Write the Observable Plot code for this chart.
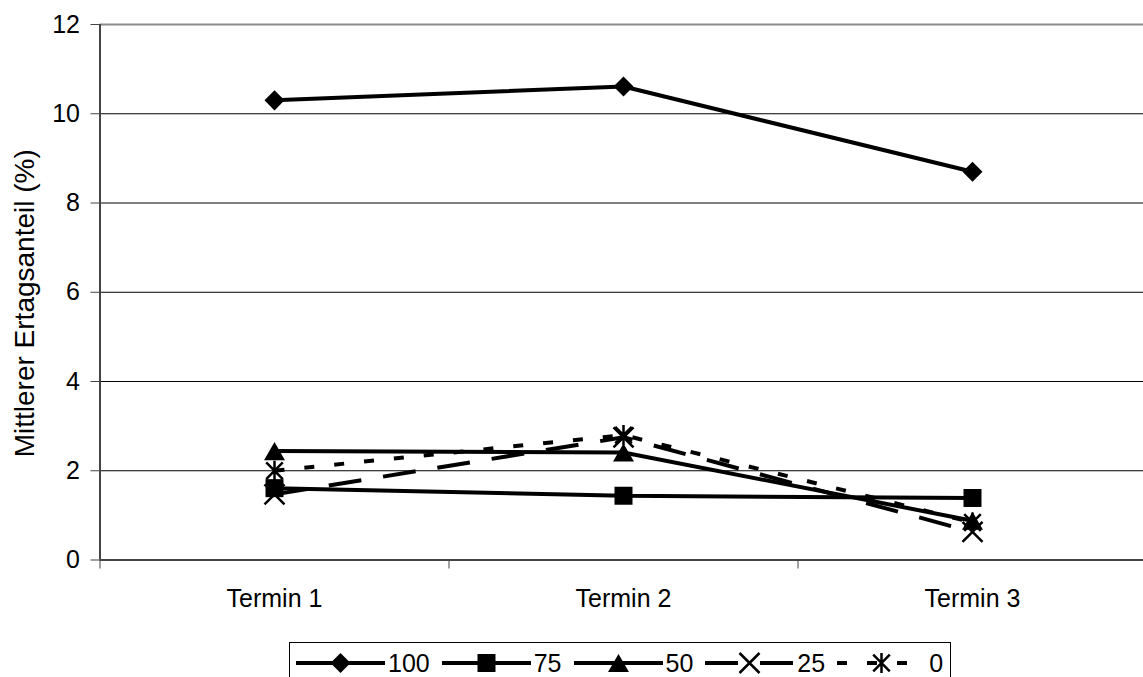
<!DOCTYPE html>
<html><head><meta charset="utf-8">
<script src="https://cdn.jsdelivr.net/npm/d3@7"></script>
<script src="https://cdn.jsdelivr.net/npm/@observablehq/plot@0.6"></script>
<style>
body{margin:0;background:#fff;font-family:"Liberation Sans",Arial,sans-serif;}
#wrap{position:relative;width:1143px;height:677px;overflow:hidden;background:#fff;}
#legend{position:absolute;left:289px;top:642px;height:42px;border:1px solid #000;display:flex;align-items:center;padding:0 7px 0 6px;font-size:25px;color:#000;box-sizing:border-box;white-space:nowrap;}
#legend .item{display:flex;align-items:center;}
#legend svg{display:block;}
#legend span{margin-left:3px;margin-right:12px;line-height:1;}
#legend .item:last-child span{margin-right:0;}
</style></head>
<body><div id="wrap"></div>
<script>
// ---- data ----
const termine = ["Termin 1", "Termin 2", "Termin 3"];
const seriesNames = ["100", "75", "50", "25", "0"];
const s100 = [10.3, 10.61, 8.7];
const s75 = [1.61, 1.44, 1.39];
const s50 = [2.44, 2.41, 0.88];
const s25 = [1.47, 2.75, 0.63];
const s0 = [2.0, 2.8, 0.84];
const yTicks = [0, 2, 4, 6, 8, 10, 12];
const yLabel = "Mittlerer Ertagsanteil (%)";

const values = [s100, s75, s50, s25, s0];
const data = seriesNames.flatMap((s, j) => termine.map((t, i) => ({s, t, i: i + 1, v: values[j][i]})));
const bounds = d3.range(termine.length + 1).map(k => k + 0.5);

// custom symbols
const triangle = {draw(ctx, size) {
  const s = Math.sqrt(size * 4 / Math.sqrt(3)), h = s * Math.sqrt(3) / 2;
  ctx.moveTo(0, -h / 2); ctx.lineTo(s / 2, h / 2); ctx.lineTo(-s / 2, h / 2); ctx.closePath();
}};
const star = {draw(ctx, size) {
  const r = Math.sqrt(size) * 0.6, d = r * 0.82;
  ctx.moveTo(0, -r); ctx.lineTo(0, r);
  ctx.moveTo(-d, -d); ctx.lineTo(d, d);
  ctx.moveTo(-d, d); ctx.lineTo(d, -d);
}};
const styles = {
  "100": {symbol: d3.symbolDiamond2, size: 256, filled: true, dash: null},
  "75": {symbol: d3.symbolSquare, size: 324, filled: true, dash: null},
  "50": {symbol: triangle, size: 190, filled: true, dash: null},
  "25": {symbol: d3.symbolTimes, size: 263, filled: false, dash: "33,22"},
  "0": {symbol: star, size: 283, filled: false, dash: "10,20"}
};
const LW = 4;

const marks = [
  Plot.ruleY(yTicks.filter(d => d > yTicks[0] && d < yTicks[yTicks.length - 1]), {stroke: "#000", strokeWidth: 1}),
  Plot.ruleY([yTicks[yTicks.length - 1]], {stroke: "#8a8a8a", strokeWidth: 2}),
  Plot.axisY({ticks: yTicks, tickSize: 9, tickPadding: 11, fontSize: 25, label: null, stroke: "#444"}),
  Plot.axisX({ticks: bounds, tickSize: 9, tickFormat: () => "", label: null, stroke: "#444"}),
  Plot.axisX({ticks: termine.map((t, i) => i + 1), tickSize: 0, tickPadding: 29, fontSize: 25,
    tickFormat: d => termine[d - 1], label: null}),
  Plot.ruleY([yTicks[0]], {stroke: "#444", strokeWidth: 2}),
  Plot.ruleX([bounds[0]], {y1: yTicks[0], y2: yTicks[yTicks.length - 1], stroke: "#444", strokeWidth: 2}),
  Plot.text([yLabel], {text: d => d, frameAnchor: "left", textAnchor: "middle", lineAnchor: "middle",
    rotate: -90, dx: -75, dy: 11, fontSize: 28, fill: "#000"})
];
for (const s of seriesNames) {
  const st = styles[s];
  const sub = data.filter(d => d.s === s);
  marks.push(Plot.line(sub, {x: "i", y: "v", stroke: "#000", strokeWidth: LW,
    strokeDasharray: st.dash, strokeLinejoin: "miter", strokeLinecap: "butt"}));
}
for (const s of seriesNames) {
  const st = styles[s];
  const sub = data.filter(d => d.s === s);
  marks.push(Plot.dot(sub, {x: "i", y: "v", symbol: st.symbol, r: Math.sqrt(st.size / Math.PI),
    fill: st.filled ? "#000" : "none", stroke: "#000", strokeWidth: st.filled ? 0 : 2.5}));
}

const chart = Plot.plot({
  width: 1143, height: 620,
  marginLeft: 99.5, marginRight: 0, marginTop: 24, marginBottom: 60.5,
  x: {type: "linear", domain: [bounds[0], bounds[bounds.length - 1]], range: [99.5, 1146.5], axis: null},
  y: {domain: [yTicks[0], yTicks[yTicks.length - 1]], axis: null},
  style: {fontFamily: "'Liberation Sans', Arial, sans-serif", fontSize: "25px", color: "#000", background: "#fff", overflow: "visible"},
  marks
});
const wrap = document.getElementById("wrap");
wrap.appendChild(chart);

// ---- legend ----
const legend = d3.select(wrap).append("div").attr("id", "legend");
for (const s of seriesNames) {
  const st = styles[s];
  const item = legend.append("div").attr("class", "item");
  const W = 89, H = 24;
  const svg = item.append("svg").attr("width", W).attr("height", H);
  svg.append("line").attr("x1", 0).attr("x2", W).attr("y1", H / 2).attr("y2", H / 2)
    .attr("stroke", "#000").attr("stroke-width", LW).attr("stroke-dasharray", st.dash);
  svg.append("path").attr("transform", `translate(${W / 2},${H / 2})`)
    .attr("d", d3.symbol(st.symbol, st.size)())
    .attr("fill", st.filled ? "#000" : "none").attr("stroke", st.filled ? "none" : "#000").attr("stroke-width", 2.5);
  item.append("span").text(s);
}
</script>
</body></html>
